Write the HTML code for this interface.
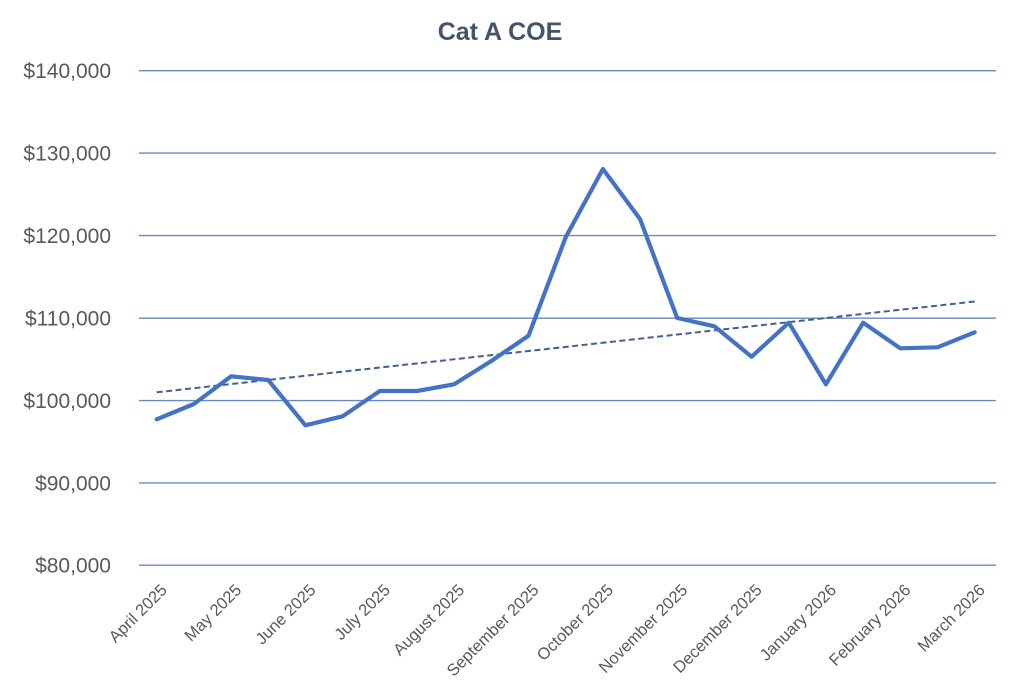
<!DOCTYPE html>
<html>
<head>
<meta charset="utf-8">
<style>
  html, body { margin: 0; padding: 0; background: #ffffff; }
  svg { display: block; }
  text { font-family: "Liberation Sans", sans-serif; }
</style>
</head>
<body>
<svg width="1024" height="683" viewBox="0 0 1024 683" xmlns="http://www.w3.org/2000/svg">
  <rect width="1024" height="683" fill="#ffffff"/>
  <!-- Title -->
  <text x="500" y="40" text-anchor="middle" font-size="25" font-weight="bold" fill="#44546a">Cat A COE</text>

  <!-- Gridlines -->
  <g stroke="#6a88bf" stroke-width="1.4">
    <line x1="139" y1="70.7" x2="996" y2="70.7"/>
    <line x1="139" y1="153.1" x2="996" y2="153.1"/>
    <line x1="139" y1="235.6" x2="996" y2="235.6"/>
    <line x1="139" y1="318.2" x2="996" y2="318.2"/>
    <line x1="139" y1="400.6" x2="996" y2="400.6"/>
    <line x1="139" y1="482.9" x2="996" y2="482.9"/>
    <line x1="139" y1="565.2" x2="996" y2="565.2"/>
  </g>

  <!-- Y labels -->
  <g font-size="21" fill="#595959" text-anchor="end">
    <text x="111" y="78.2">$140,000</text>
    <text x="111" y="160.6">$130,000</text>
    <text x="111" y="243.1">$120,000</text>
    <text x="111" y="325.7">$110,000</text>
    <text x="111" y="408.1">$100,000</text>
    <text x="111" y="490.4">$90,000</text>
    <text x="111" y="572.7">$80,000</text>
  </g>

  <!-- Trend line -->
  <line x1="156.7" y1="392.3" x2="974.7" y2="301.5" stroke="#44608f" stroke-width="2" stroke-dasharray="6,3.5"/>

  <!-- Data line -->
  <polyline fill="none" stroke="#4472c4" stroke-width="4.2" stroke-linejoin="round" stroke-linecap="round"
    points="156.7,419.3 193.9,404 231.1,376.3 268.2,380 305.4,425.3 342.6,416.3 379.8,391 417,391 454.1,384.3 491.3,361 528.5,335.8 565.7,237.3 602.9,169 640,219 677.2,318 714.4,326.3 751.6,356.7 788.8,322.7 825.9,384.3 863.1,322.7 900.3,348.3 937.5,347.3 974.7,332.3"/>

  <!-- X labels -->
  <g font-size="16.5" fill="#595959" text-anchor="end">
    <text transform="translate(168,591) rotate(-45)">April 2025</text>
    <text transform="translate(242.4,591) rotate(-45)">May 2025</text>
    <text transform="translate(316.7,591) rotate(-45)">June 2025</text>
    <text transform="translate(391.1,591) rotate(-45)">July 2025</text>
    <text transform="translate(465.4,591) rotate(-45)">August 2025</text>
    <text transform="translate(539.8,591) rotate(-45)">September 2025</text>
    <text transform="translate(614.2,591) rotate(-45)">October 2025</text>
    <text transform="translate(688.5,591) rotate(-45)">November 2025</text>
    <text transform="translate(762.9,591) rotate(-45)">December 2025</text>
    <text transform="translate(837.2,591) rotate(-45)">January 2026</text>
    <text transform="translate(911.6,591) rotate(-45)">February 2026</text>
    <text transform="translate(986,591) rotate(-45)">March 2026</text>
  </g>
</svg>
</body>
</html>
